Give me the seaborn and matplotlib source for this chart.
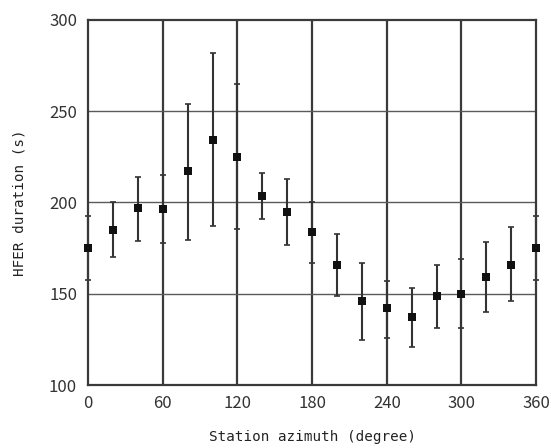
import matplotlib
matplotlib.use("Agg")
import matplotlib.pyplot as plt
import seaborn as sns
import numpy as np
import pandas as pd

azimuth = [0, 20, 40, 60, 80, 100, 120, 140, 160, 180, 200, 220, 240, 260, 280, 300, 320, 340, 360]
duration = [175, 185, 197, 196.5, 217.5, 234, 225, 203.5, 195, 184, 166, 146, 142, 137.5, 148.5, 150, 159, 166, 175]
upper = [192.5, 200, 214, 215, 254, 282, 265, 216, 213, 200.5, 182.5, 167, 157, 153, 166, 169, 178.5, 186.5, 192.5]
lower = [157.5, 170, 179, 178, 179.5, 187, 185.5, 191, 176.5, 167, 149, 124.5, 125.5, 121, 131.5, 131, 140, 146, 157.5]

xticks = [0, 60, 120, 180, 240, 300, 360]
yticks = [100, 150, 200, 250, 300]

df = pd.DataFrame({"azimuth": azimuth, "duration": duration, "upper": upper, "lower": lower})

sns.set_style("white")
fig = plt.figure(figsize=(5.51, 4.48), dpi=100)
ax = fig.add_axes([0.16, 0.1406, 0.813, 0.8148])

# grid
for x in xticks[1:-1]:
    ax.axvline(x, color="#3a3a3a", lw=1.6, zorder=1)
for y in yticks[1:-1]:
    ax.axhline(y, color="#5a5a5a", lw=1.0, zorder=1)

err = np.array([df["duration"] - df["lower"], df["upper"] - df["duration"]])
ax.errorbar(df["azimuth"], df["duration"], yerr=err, fmt="none", ecolor="#333333",
            elinewidth=1.5, capsize=2.3, capthick=1.2, zorder=2, clip_on=False)
sns.scatterplot(data=df, x="azimuth", y="duration", marker="s", s=30, color="#111111",
                edgecolor="#111111", linewidth=0, ax=ax, zorder=3, clip_on=False)

ax.set_xlim(0, 360)
ax.set_ylim(100, 300)
ax.set_xticks(xticks)
ax.set_yticks(yticks)
ax.tick_params(axis="both", length=0, labelsize=12, colors="#333333")
ax.tick_params(axis="x", pad=7)
ax.tick_params(axis="y", pad=8)
for lab in ax.get_xticklabels() + ax.get_yticklabels():
    lab.set_family("Noto Sans CJK JP")
for sp in ax.spines.values():
    sp.set_color("#3a3a3a")
    sp.set_linewidth(1.6)

ax.set_xlabel("Station azimuth (degree)", family="DejaVu Sans Mono", fontsize=10.3,
              color="#222222", labelpad=13)
ax.set_ylabel("HFER duration (s)", family="DejaVu Sans Mono", fontsize=10.3,
              color="#222222", labelpad=16)

fig.savefig("out.png", dpi=100)
